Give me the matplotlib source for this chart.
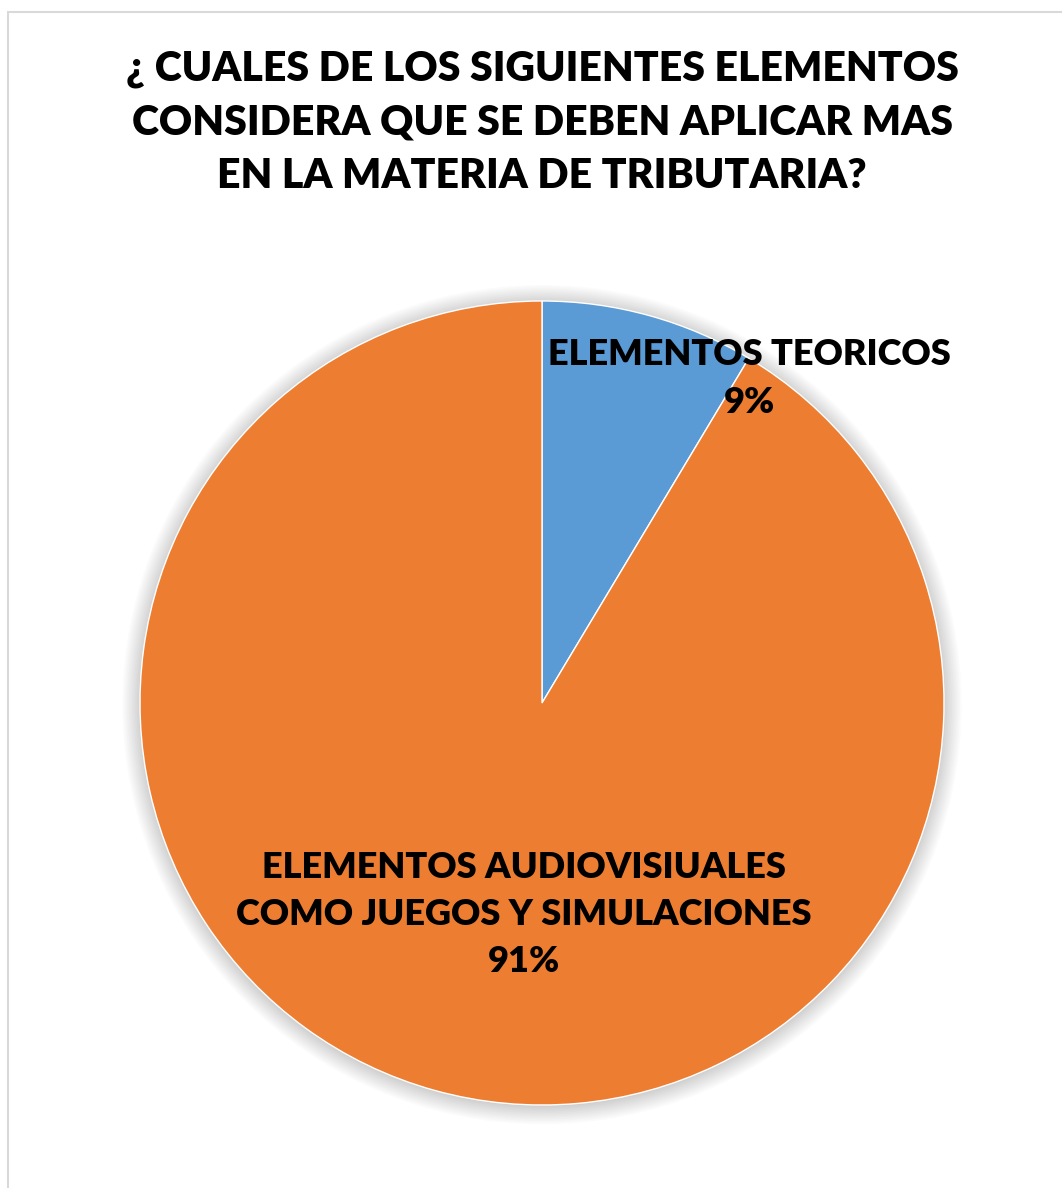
import matplotlib
matplotlib.use("Agg")
import matplotlib.pyplot as plt
from matplotlib.patches import Rectangle, Circle

categories = ["ELEMENTOS TEORICOS", "ELEMENTOS AUDIOVISIUALES\nCOMO JUEGOS Y SIMULACIONES"]
values = [8.6, 91.4]
pct_labels = ["9%", "91%"]
colors = ["#5B9BD5", "#ED7D31"]
title = "¿ CUALES DE LOS SIGUIENTES ELEMENTOS\nCONSIDERA QUE SE DEBEN APLICAR MAS\nEN LA MATERIA DE TRIBUTARIA?"

W, H = 1062, 1188
fig = plt.figure(figsize=(W / 100, H / 100), dpi=100)
fig.patch.set_facecolor("white")

# chart border
fig.patches.append(Rectangle((7.5 / W, -0.05), 1.2, 1 - 11.5 / H + 0.05,
                             transform=fig.transFigure, fill=False,
                             edgecolor="#D9D9D9", linewidth=1.5))

cx, cy, r = 542, 703, 402
ax = fig.add_axes([(cx - r) / W, (H - cy - r) / H, 2 * r / W, 2 * r / H])
ax.axis("off")

# soft shadow
for i in range(12):
    ax.add_patch(Circle((0.0, -0.004), 1.0 + 0.004 * i, color="black",
                        alpha=0.016, zorder=0, linewidth=0, clip_on=False))

ax.pie(values, colors=colors, startangle=90, counterclock=False, radius=1.0,
       wedgeprops=dict(edgecolor="white", linewidth=1.0, zorder=2))
ax.set_xlim(-1, 1)
ax.set_ylim(-1, 1)
ax.set_aspect("equal")

font = "Lato"
wt = "heavy"
ax.text(0.517, 0.808, categories[0] + "\n" + pct_labels[0], ha="center", va="center",
        fontsize=26, fontweight=wt, family=font, linespacing=1.55, zorder=5)
ax.text(-0.045, -0.527, categories[1] + "\n" + pct_labels[1], ha="center", va="center",
        fontsize=26, fontweight=wt, family=font, linespacing=1.52, zorder=5)

fig.text(542 / W, 1 - 122 / H, title, ha="center", va="center", fontsize=29.5,
         fontweight=wt, family=font, linespacing=1.5)

fig.savefig("out.png", dpi=100, facecolor="white")
